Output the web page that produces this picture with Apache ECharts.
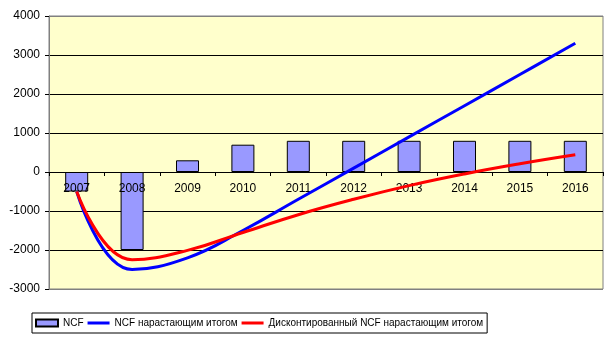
<!DOCTYPE html>
<html>
<head>
<meta charset="utf-8">
<script src="https://cdn.jsdelivr.net/npm/echarts@6/dist/echarts.min.js"></script>
<style>html,body{margin:0;padding:0;background:#fff;}#c{width:614px;height:343px;}</style>
</head>
<body>
<div id="c"></div>
<script>
var categories = ['2007','2008','2009','2010','2011','2012','2013','2014','2015','2016'];
var ncf = [-500, -2000, 300, 700, 800, 800, 800, 800, 800, 800];
var ncfCumulative = [-500, -2500, -2200, -1500, -700, 100, 900, 1700, 2500, 3300];
var ncfDiscounted = [-500, -2250, -2010, -1550, -1095, -700, -350, -50, 210, 440];
var seriesNames = ['NCF', 'NCF нарастающим итогом', 'Дисконтированный NCF нарастающим итогом'];
var yMin = -3000, yMax = 4000, yStep = 1000;

var chart = echarts.init(document.getElementById('c'));
var font = 'Arial, "Liberation Sans", sans-serif';
var lineIcon = 'path://M0,0H22V3H0Z';
chart.setOption({
  animation: false,
  backgroundColor: '#ffffff',
  grid: {left: 49, right: 11, top: 16, bottom: 54, show: true, backgroundColor: '#FFFFCC', borderColor: '#808080', borderWidth: 1},
  legend: {
    left: 32, top: 313,
    data: [
      {name: seriesNames[0], icon: 'rect'},
      {name: seriesNames[1], icon: lineIcon},
      {name: seriesNames[2], icon: lineIcon}
    ],
    itemWidth: 22, itemHeight: 7, itemGap: 4,
    symbolKeepAspect: true,
    padding: [5, 4, 5, 3],
    borderColor: '#000', borderWidth: 1,
    textStyle: {fontFamily: font, fontSize: 10, color: '#000'}
  },
  xAxis: {
    type: 'category', data: categories, z: 2,
    axisLine: {onZero: true, lineStyle: {color: '#000', width: 1}},
    axisTick: {show: true, length: 4, lineStyle: {color: '#000'}},
    axisLabel: {fontFamily: font, fontSize: 12, color: '#000', margin: 11}
  },
  yAxis: {
    type: 'value', min: yMin, max: yMax, interval: yStep,
    axisLine: {show: true, lineStyle: {color: '#808080'}},
    axisTick: {show: true, length: 4, lineStyle: {color: '#000'}},
    axisLabel: {fontFamily: font, fontSize: 12, color: '#000', margin: 9,
                formatter: function (v) { return String(v); }},
    splitLine: {show: true, lineStyle: {color: ['#808080','#000','#000','#000','#000','#000','#000','#808080'], width: 1}}
  },
  series: [
    {name: seriesNames[0], type: 'bar', data: ncf, barWidth: 23, z: 1,
     itemStyle: {color: '#9999FF', borderColor: '#000', borderWidth: 1}},
    {name: seriesNames[1], type: 'line', data: ncfCumulative, smooth: 0.45, smoothConstraint: false, symbol: 'none', z: 3,
     lineStyle: {color: '#0000FF', width: 3}, itemStyle: {color: '#0000FF'}},
    {name: seriesNames[2], type: 'line', data: ncfDiscounted, smooth: 0.45, smoothConstraint: false, symbol: 'none', z: 3,
     lineStyle: {color: '#FF0000', width: 3}, itemStyle: {color: '#FF0000'}}
  ]
});
// place the category axis on the zero line of the value axis
var yZero = chart.convertToPixel({yAxisIndex: 0}, 0);
var yBottom = chart.convertToPixel({yAxisIndex: 0}, yMin);
chart.setOption({xAxis: {offset: -(yBottom - yZero)}});
</script>
</body>
</html>
